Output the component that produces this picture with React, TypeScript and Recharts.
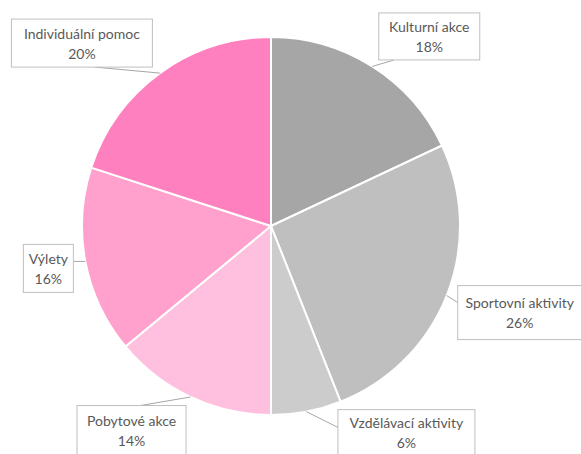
import { PieChart, Pie, Cell } from "recharts";

const categories = [
  "Kulturní akce",
  "Sportovní aktivity",
  "Vzdělávací aktivity",
  "Pobytové akce",
  "Výlety",
  "Individuální pomoc",
];
const shares = [18, 26, 6, 14, 16, 20];
const colors = ["#A6A6A6", "#BFBFBF", "#CCCCCC", "#FFBFDF", "#FFA0CD", "#FF80BF"];

// callout box placement relative to the slice's outer midpoint
const boxes = [
  { dx: 57, dy: -30, w: 101, h: 47, ax: -35, ay: 23.5 },
  { dx: 73, dy: 17, w: 124, h: 54, ax: -62, ay: -10 },
  { dx: 100, dy: 21, w: 137, h: 46, ax: -68, ay: -5 },
  { dx: -59, dy: 33, w: 109, h: 49, ax: 9, ay: -24.5 },
  { dx: -37, dy: 7, w: 50, h: 48, ax: 25, ay: -7 },
  { dx: -78, dy: -30, w: 141, h: 48, ax: 13, ay: 24 },
];

const data = categories.map((name, i) => ({ name, value: shares[i] }));

const RADIAN = Math.PI / 180;

const renderLabel = (props: any) => {
  const { cx, cy, midAngle, outerRadius, index, value } = props;
  const px = cx + outerRadius * Math.cos(-midAngle * RADIAN);
  const py = cy + outerRadius * Math.sin(-midAngle * RADIAN);
  const b = boxes[index];
  const bx = px + b.dx;
  const by = py + b.dy;
  return (
    <g key={`lbl-${index}`}>
      <line x1={px} y1={py} x2={bx + b.ax} y2={by + b.ay} stroke="#A6A6A6" strokeWidth={1} />
      <rect
        x={bx - b.w / 2}
        y={by - b.h / 2}
        width={b.w}
        height={b.h}
        fill="#FFFFFF"
        stroke="#BFBFBF"
        strokeWidth={1}
      />
      <text x={bx} y={by - 10} textAnchor="middle" dominantBaseline="central" fill="#595959" fontSize={14}>
        {categories[index]}
      </text>
      <text x={bx} y={by + 10} textAnchor="middle" dominantBaseline="central" fill="#595959" fontSize={14}>
        {`${value}%`}
      </text>
    </g>
  );
};

export default function App() {
  return (
    <div style={{ position: "absolute", left: 0, top: 0, background: "#FFFFFF", fontFamily: "Lato, sans-serif" }}>
      <PieChart width={581} height={454} margin={{ top: 0, right: 0, bottom: 0, left: 0 }}>
        <Pie
          data={data}
          dataKey="value"
          nameKey="name"
          cx={271}
          cy={226}
          outerRadius={189}
          startAngle={90}
          endAngle={-270}
          stroke="#FFFFFF"
          strokeWidth={2}
          label={renderLabel}
          labelLine={false}
          isAnimationActive={false}
        >
          {data.map((entry, index) => (
            <Cell key={`cell-${index}`} fill={colors[index]} />
          ))}
        </Pie>
      </PieChart>
    </div>
  );
}
